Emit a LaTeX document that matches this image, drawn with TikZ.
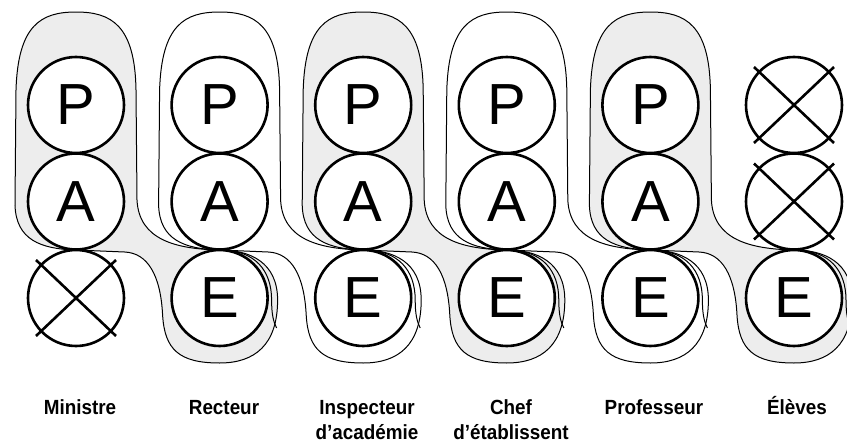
\documentclass[tikz,border=0pt]{standalone}
\usepackage{fontspec}
\setmainfont{Liberation Sans}
\newfontfamily\labfont[FakeStretch=0.92]{Liberation Sans}
\usepackage{tikz}
\usetikzlibrary{calc}
\definecolor{stipple}{gray}{0.93}
\newcommand{\bubblepath}{(\cx,250)
  .. controls (\cx-35,249) and (\cx-60,240) .. (\cx-61,205)
  -- (\cx-60,90)
  .. controls (\cx-58,25) and (\cx-35,12) .. (\cx,12)
  .. controls (\cx+35,12) and (\cx+59,25) .. (\cx+60,90)
  -- (\cx+61,200)
  .. controls (\cx+63,240) and (\cx+100,249) .. (\nx,250)
  .. controls (\nx+30,250) and (\nx+58,262) .. (\nx+58,300)
  .. controls (\nx+58,345) and (\nx+35,363) .. (\nx,363)
  .. controls (\nx-40,363) and (\nx-55,350) .. (\nx-57,315)
  .. controls (\nx-59,275) and (\nx-72,253) .. (\nx-95,252)
  -- cycle}

\begin{document}
\begin{tikzpicture}[x=1pt,y=-1pt,
      ego/.style={circle,draw,line width=2.6pt,fill=white,minimum size=96pt,inner sep=0pt,font=\fontsize{58}{58}\selectfont},
      bubble/.style={line width=1pt},
      crossed/.style={line width=2.6pt},
      role/.style={font=\labfont\bfseries\fontsize{20.5}{25}\selectfont,align=center,anchor=base,inner sep=0pt}]
  \useasboundingbox (0,0) rectangle (847,447);
  \def\dx{143.6}
  \foreach \i/\shade in {0/stipple,1/none,2/stipple,3/none,4/stipple}{
    \pgfmathsetmacro\cx{76+\i*\dx}
    \pgfmathsetmacro\nx{\cx+\dx}
    \path[fill=\shade] \bubblepath;
  }
  \foreach \i in {0,...,4}{
    \pgfmathsetmacro\cx{76+\i*\dx}
    \pgfmathsetmacro\nx{\cx+\dx}
    \draw[bubble] \bubblepath;
    \draw[bubble] (\nx+3,250) .. controls (\nx+35,251) and (\nx+52,270) .. (\nx+52,300)
      .. controls (\nx+52,315) and (\nx+54,322) .. (\nx+57,328);
  }
  \foreach \i/\p/\a/\e in {0/P/A/{},1/P/A/E,2/P/A/E,3/P/A/E,4/P/A/E,5/{}/{}/E}{
    \pgfmathsetmacro\cx{76+\i*\dx}
    \node[ego] (P\i) at (\cx,105) {\p};
    \node[ego] (A\i) at (\cx,201.5) {\a};
    \node[ego] (E\i) at (\cx,298) {\e};
  }
  \foreach \n in {E0,P5,A5}
    \draw[crossed] ($(\n)+(-40,-38)$) -- ($(\n)+(40,38)$) ($(\n)+(-40,38)$) -- ($(\n)+(40,-38)$);
  \node[role] (min) at (80,414) {Ministre};
  \node[role] (rec) at (224,414) {Recteur};
  \node[role] (insp) at (367,439) {Inspecteur\\d’académie};
  \node[role] (chef) at (511,439) {Chef\\d’établissent};
  \node[role] (prof) at (654,414) {Professeur};
  \node[role] (elev) at (797,414) {Élèves};
\end{tikzpicture}
\end{document}
